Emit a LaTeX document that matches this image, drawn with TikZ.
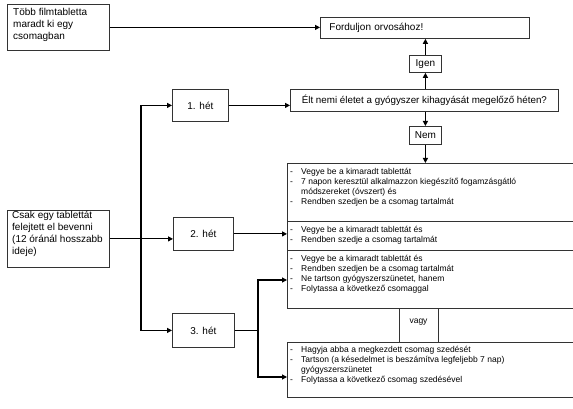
\documentclass[tikz,border=0pt]{standalone}
\usepackage{fontspec}
\setmainfont{Liberation Sans}
\usetikzlibrary{arrows.meta,calc}
\newcommand\lstrows[1]{\begin{tabular}{@{}p{11pt}@{}l@{}}#1\end{tabular}}
\begin{document}
\begin{tikzpicture}[x=1pt,y=-1pt,
  box/.style={draw=black!80, line width=0.8pt, inner sep=0pt, anchor=north west},
  lbl/.style={font=\fontsize{10}{12}\selectfont, inner sep=0pt},
  arr/.style={line width=1.1pt, line join=miter, -{Triangle[length=5pt,width=5pt]}},
  ln/.style={line width=1.1pt},
  lst/.style={font=\fontsize{8.5}{10}\selectfont, inner sep=0pt, anchor=north west}]
\clip (0,0) rectangle (573,409);
\fill[white] (0,0) rectangle (573,409);

% left boxes
\node[box, minimum width=102pt, minimum height=46pt] (A) at (7,4) {};
\node[lbl, anchor=north west, align=left] (At) at (13,8.5) {Több filmtabletta\\maradt ki egy\\csomagban};
\node[box, minimum width=102pt, minimum height=57pt] (C) at (7,210) {};
\node[lbl, anchor=north west, align=left] (Ct) at (12,210.5) {Csak egy tablettát\\felejtett el bevenni\\(12 óránál hosszabb\\ideje)};

% top right
\node[box, font=\fontsize{10}{12}\selectfont, minimum height=21pt, text width=191pt, inner xsep=9pt, align=left] (F) at (320,17) {Forduljon orvosához!};
\node[box, font=\fontsize{9.8}{12}\selectfont, minimum height=22pt, minimum width=268pt] (E) at (290,89) {Élt nemi életet a gyógyszer kihagyását megelőző héten?};
\node[box, font=\fontsize{10}{12}\selectfont, minimum width=32pt, minimum height=17pt] (Ig) at (409,55) {Igen};
\node[box, font=\fontsize{10}{12}\selectfont, minimum width=32pt, minimum height=18pt] (N) at (409,126) {Nem};

% week boxes
\node[box, font=\fontsize{10}{12}\selectfont, minimum width=56pt, minimum height=32pt] (H1) at (172,89) {1. hét};
\node[box, font=\fontsize{10}{12}\selectfont, minimum width=60pt, minimum height=33pt] (H2) at (173,217) {2. hét};
\node[box, font=\fontsize{10}{12}\selectfont, minimum width=62pt, minimum height=34pt] (H3) at (172,313) {3. hét};

% big boxes
\node[box, minimum width=313pt, minimum height=58pt] (B1) at (287,163) {};
\node[box, minimum width=313pt, minimum height=29pt] (B2) at (287,221) {};
\node[box, minimum width=313pt, minimum height=58pt] (B3) at (287,250) {};
\node[box, minimum width=313pt, minimum height=55pt] (B4) at (287,342) {};
\node[box, minimum width=39pt, minimum height=34pt] (V) at (399,308) {};
\node[font=\fontsize{8.5}{10}\selectfont, inner sep=0pt] (Vt) at (418.5,322) {vagy};

\node[lst] (L1) at (290,167) {\lstrows{-&Vegye be a kimaradt tablettát\\
-&7 napon keresztül alkalmazzon kiegészítő fogamzásgátló\\
&módszereket (óvszert) és\\
-&Rendben szedjen be a csomag tartalmát}};
\node[lst] (L2) at (290,225) {\lstrows{-&Vegye be a kimaradt tablettát és\\
-&Rendben szedje a csomag tartalmát}};
\node[lst] (L3) at (290,254) {\lstrows{-&Vegye be a kimaradt tablettát és\\
-&Rendben szedjen be a csomag tartalmát\\
-&Ne tartson gyógyszerszünetet, hanem\\
-&Folytassa a következő csomaggal}};
\node[lst] (L4) at (290,345) {\lstrows{-&Hagyja abba a megkezdett csomag szedését\\
-&Tartson (a késedelmet is beszámítva legfeljebb 7 nap)\\
&gyógyszerszünetet\\
-&Folytassa a következő csomag szedésével}};

% connectors
\draw[arr] (A.east) -- (A.east -| F.west);
\draw[arr] (Ig.north) -- (Ig.north |- F.south);
\draw[arr] (Ig.south |- E.north) -- (Ig.south);
\draw[arr] (N.north |- E.south) -- (N.north);
\draw[arr] (N.south) -- (N.south |- B1.north);
\draw[arr] (H1.east) -- (H1.east -| E.west);
\draw[arr] (H2.east) -- (H2.east -| B2.west);
\draw[arr] (C.east) -- (C.east -| H2.west);

\coordinate (vl) at (141,0);
\draw[arr] (vl |- H3.west) -- (vl |- H1.west) -- (H1.west);
\draw[arr] (vl |- H1.west) -- (vl |- H3.west) -- (H3.west);

\coordinate (br) at (258,0);
\coordinate (b3in) at (287,280);
\coordinate (b4in) at (287,377);
\draw[ln] (H3.east) -- (br |- H3.east);
\draw[arr] (br |- H3.east) -- (br |- b3in) -- (b3in);
\draw[arr] (br |- H3.east) -- (br |- b4in) -- (b4in);
\end{tikzpicture}
\end{document}
